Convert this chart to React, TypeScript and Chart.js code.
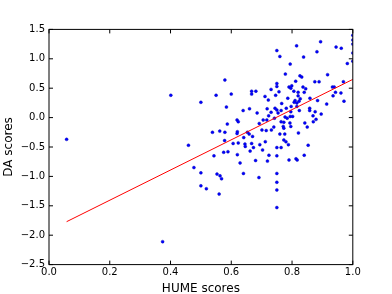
import React, { useEffect, useRef } from "react";
import { Chart, registerables } from "chart.js";

Chart.register(...registerables);

// HUME score (x) and DA score (y) of each sentence
const humeScores = [
  0.058, 0.401, 0.459, 0.374, 0.75, 0.76, 0.579, 0.75, 0.75, 0.731,
  0.757, 0.667, 0.681, 0.667, 0.55, 0.6, 0.711, 0.722, 0.5, 0.584,
  0.66, 0.639, 0.718, 0.744, 0.815, 0.894, 0.945, 0.962, 0.882, 0.838,
  0.794, 0.982, 1.0, 1.0, 1.0, 1.0, 1.0, 0.778, 0.826, 0.832,
  0.917, 0.812, 0.875, 0.889, 0.79, 0.799, 0.796, 0.836, 0.845, 0.806,
  0.82, 0.84, 0.933, 0.939, 0.969, 0.943, 0.961, 0.935, 0.746, 0.82,
  0.786, 0.827, 0.859, 0.884, 0.81, 0.807, 0.816, 0.823, 0.766, 0.797,
  0.971, 0.914, 0.781, 0.858, 0.816, 0.876, 0.685, 0.731, 0.723, 0.75,
  0.754, 0.587, 0.619, 0.623, 0.692, 0.705, 0.717, 0.742, 0.701, 0.715,
  0.732, 0.74, 0.538, 0.562, 0.579, 0.62, 0.619, 0.653, 0.659, 0.67,
  0.641, 0.578, 0.606, 0.623, 0.645, 0.646, 0.667, 0.673, 0.694, 0.712,
  0.75, 0.662, 0.703, 0.575, 0.589, 0.543, 0.62, 0.724, 0.75, 0.68,
  0.719, 0.629, 0.5, 0.553, 0.563, 0.568, 0.64, 0.691, 0.75, 0.75,
  0.764, 0.796, 0.824, 0.858, 0.896, 0.869, 0.879, 0.87, 0.842, 0.85,
  0.764, 0.773, 0.793, 0.777, 0.784, 0.794, 0.802, 0.771, 0.773, 0.796,
  0.821, 0.76, 0.776, 0.773, 0.78, 0.788, 0.764, 0.853, 0.84, 0.79,
  0.813, 0.817, 0.477, 0.5, 0.518, 0.56, 0.75, 0.75,
];
const daScores = [
  -0.37, 0.38, -0.47, -2.11, 1.14, 1.04, 0.64, 0.58, 0.53, 0.48,
  0.44, 0.45, 0.45, 0.4, 0.38, 0.4, 0.36, 0.3, 0.26, 0.18,
  0.15, 0.12, 0.15, 0.16, 1.22, 1.29, 1.2, 1.18, 1.12, 1.03,
  0.91, 0.92, 1.4, 1.32, 1.25, 1.1, 0.96, 0.74, 0.71, 0.69,
  0.73, 0.62, 0.61, 0.61, 0.52, 0.54, 0.5, 0.52, 0.49, 0.45,
  0.43, 0.43, 0.52, 0.52, 0.61, 0.43, 0.42, 0.37, 0.38, 0.37,
  0.33, 0.32, 0.33, 0.29, 0.29, 0.26, 0.25, 0.28, 0.24, 0.19,
  0.28, 0.23, 0.16, 0.16, 0.19, 0.1, 0.08, 0.09, 0.03, 0.13,
  0.08, -0.11, -0.04, -0.07, -0.1, -0.04, -0.04, -0.01, -0.21, -0.22,
  -0.21, -0.16, -0.25, -0.23, -0.25, -0.24, -0.27, -0.25, -0.28, -0.32,
  -0.34, -0.39, -0.44, -0.43, -0.45, -0.49, -0.44, -0.51, -0.46, -0.41,
  -0.51, -0.57, -0.55, -0.59, -0.58, -0.65, -0.63, -0.64, -0.65, -0.73,
  -0.74, -0.77, -0.94, -0.96, -0.99, -1.04, -0.95, -1.02, -0.95, -1.1,
  0.12, 0.1, 0.12, 0.12, 0.06, 0.03, -0.03, -0.07, -0.09, -0.16,
  -0.07, -0.08, -0.09, 0.01, -0.01, 0.02, 0.02, -0.15, -0.18, -0.15,
  -0.26, -0.28, -0.28, -0.38, -0.41, -0.46, -0.51, -0.47, -0.64, -0.72,
  -0.7, -0.72, -0.85, -1.16, -1.21, -1.3, -1.23, -1.53,
];

// Least-squares fit line end points
const fitX = [0.058, 1.0];
const fitY = [-1.77, 0.65];

const xTicks = [0.0, 0.2, 0.4, 0.6, 0.8, 1.0];
const yTicks = [-2.5, -2.0, -1.5, -1.0, -0.5, 0.0, 0.5, 1.0, 1.5];

const fmt = (v: number) => {
  const s = Math.abs(v).toFixed(1);
  return v < -1e-9 ? "\u2212" + s : s;
};

const framePlugin = {
  id: "mplFrame",
  afterDraw(chart: any) {
    const { ctx, chartArea: a, scales } = chart;
    ctx.save();
    ctx.strokeStyle = "#000";
    ctx.lineWidth = 1;
    ctx.strokeRect(a.left, a.top, a.right - a.left, a.bottom - a.top);
    ctx.beginPath();
    for (const v of xTicks) {
      const p = scales.x.getPixelForValue(v);
      ctx.moveTo(p, a.bottom);
      ctx.lineTo(p, a.bottom - 4);
      ctx.moveTo(p, a.top);
      ctx.lineTo(p, a.top + 4);
    }
    for (const v of yTicks) {
      const p = scales.y.getPixelForValue(v);
      ctx.moveTo(a.left, p);
      ctx.lineTo(a.left + 4, p);
      ctx.moveTo(a.right, p);
      ctx.lineTo(a.right - 4, p);
    }
    ctx.stroke();
    ctx.restore();
  },
};

export default function App() {
  const ref = useRef<HTMLCanvasElement | null>(null);

  useEffect(() => {
    document.body.style.margin = "0";
    const canvas = ref.current;
    if (!canvas) return;
    const points = humeScores.map((x, i) => ({ x, y: daScores[i] }));
    const fit = fitX.map((x, i) => ({ x, y: fitY[i] }));
    const font = "'DejaVu Sans', sans-serif";
    const chart = new Chart(canvas, {
      type: "scatter",
      data: {
        datasets: [
          {
            data: fit,
            showLine: true,
            borderColor: "#ff0000",
            borderWidth: 1,
            pointRadius: 0,
            fill: false,
          } as any,
          {
            data: points,
            pointRadius: 1.5,
            pointBorderWidth: 0.4,
            pointBorderColor: "#0000b0",
            pointBackgroundColor: "#0000ff",
          } as any,
        ],
      },
      options: {
        animation: false,
        responsive: false,
        devicePixelRatio: 1,
        layout: { padding: { left: 0, right: 39.2, top: 29.4, bottom: 0 } },
        plugins: {
          legend: { display: false },
          tooltip: { enabled: false },
        },
        scales: {
          x: {
            type: "linear",
            min: 0,
            max: 1,
            grid: { display: false, drawTicks: false },
            border: { display: false },
            afterBuildTicks: (s: any) => {
              s.ticks = xTicks.map((value) => ({ value }));
            },
            afterFit: (s: any) => {
              s.height = 29.4;
            },
            ticks: {
              autoSkip: false,
              maxRotation: 0,
              padding: 2,
              color: "#000",
              font: { family: font, size: 10 },
              callback: (v: any) => fmt(Number(v)),
            },
            title: {
              display: true,
              text: "HUME scores",
              color: "#000",
              padding: 0,
              font: { family: font, size: 12, lineHeight: 0.9 },
            },
          },
          y: {
            type: "linear",
            min: -2.5,
            max: 1.5,
            grid: { display: false, drawTicks: false },
            border: { display: false },
            afterBuildTicks: (s: any) => {
              s.ticks = yTicks.map((value) => ({ value }));
            },
            afterFit: (s: any) => {
              s.width = 49;
            },
            ticks: {
              autoSkip: false,
              padding: 4,
              color: "#000",
              font: { family: font, size: 10 },
              callback: (v: any) => fmt(Number(v)),
            },
            title: {
              display: true,
              text: "DA scores",
              color: "#000",
              padding: 2,
              font: { family: font, size: 12, lineHeight: 1.2 },
            },
          },
        },
      },
      plugins: [framePlugin],
    });
    return () => chart.destroy();
  }, []);

  return (
    <canvas
      ref={ref}
      width={392}
      height={294}
      style={{ display: "block", width: 392, height: 294 }}
    />
  );
}
